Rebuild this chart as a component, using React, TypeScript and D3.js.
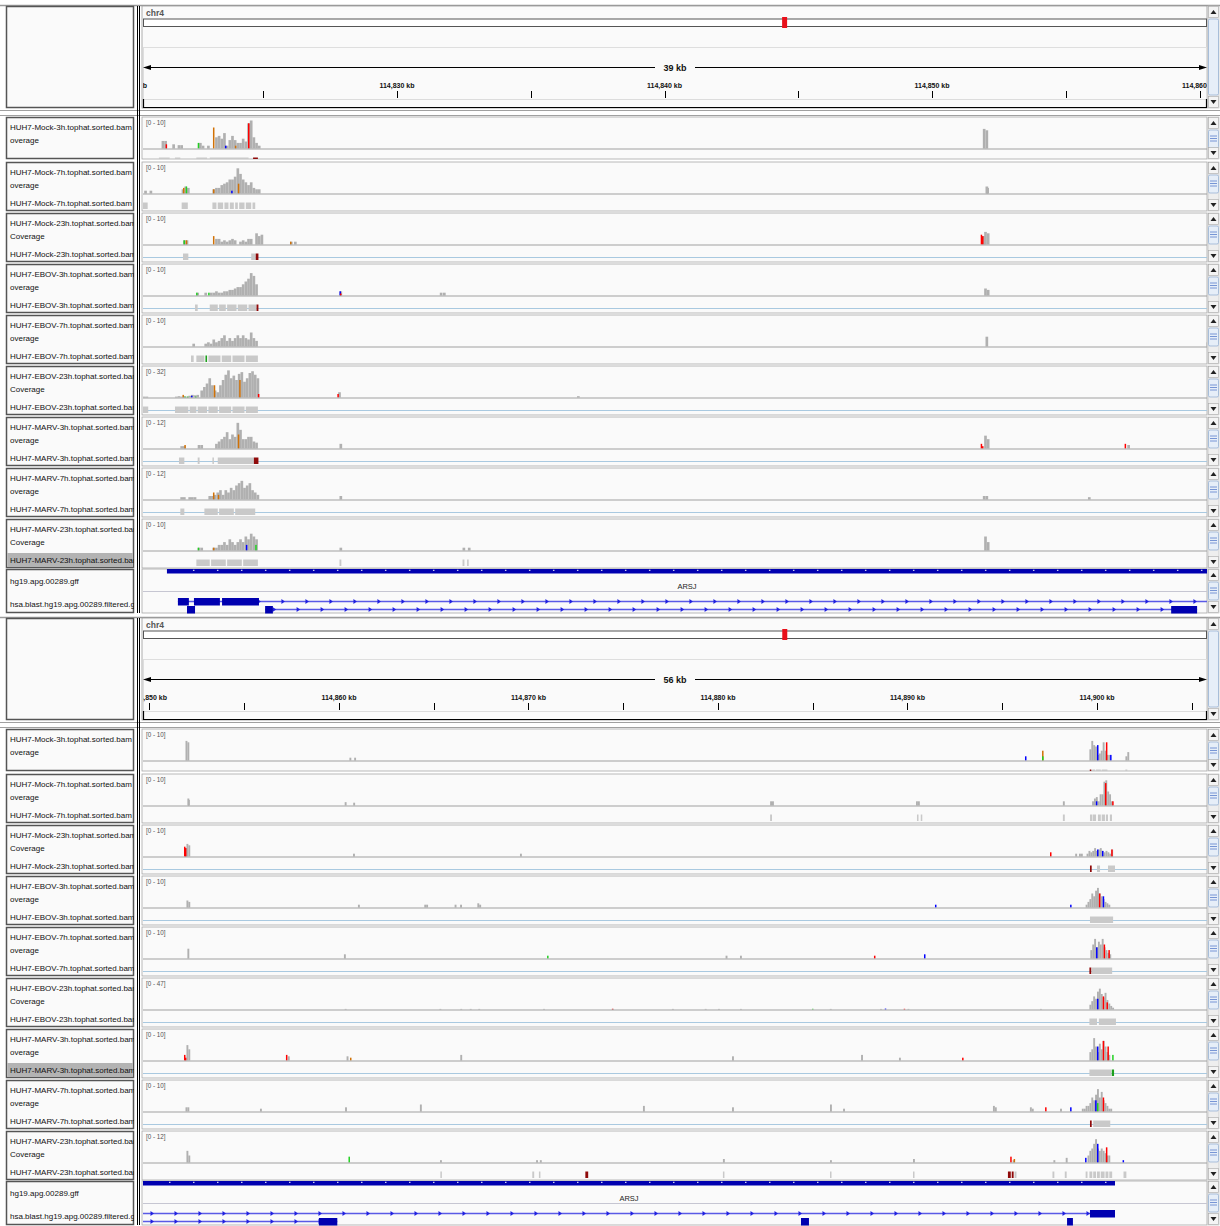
import * as d3 from "d3";
import React from "react";

// ---- layout constants ----
const W = 1220;
const H = 1226;
const X0 = 143;
const X1 = 1207;
const BIN = 0.1; // kb per coverage bin

// ---- view data ----
const TOP_DOMAIN = [114820.505, 114860.28];
const BOTTOM_DOMAIN = [114849.657, 114905.805];
const SPAN_LABELS = ["39 kb", "56 kb"];
const CHR4_LEN = 191154; // kb

const SAMPLES = [
  "HUH7-Mock-3h", "HUH7-Mock-7h", "HUH7-Mock-23h",
  "HUH7-EBOV-3h", "HUH7-EBOV-7h", "HUH7-EBOV-23h",
  "HUH7-MARV-3h", "HUH7-MARV-7h", "HUH7-MARV-23h",
];
const COV_LABELS = ["overage", "overage", "Coverage", "overage", "overage", "Coverage", "overage", "overage", "Coverage"];
const RANGE_TOP = [10, 10, 10, 10, 10, 32, 12, 12, 10];
const RANGE_BOTTOM = [10, 10, 10, 10, 10, 47, 10, 10, 12];
const BLUE_TOP = [0, 0, 1, 1, 0, 1, 1, 1, 0];
const BLUE_BOTTOM = [0, 0, 1, 1, 1, 1, 1, 1, 0];
const SELECTED = [8, 6]; // selected alignment label per panel

// coverage runs: [start kb, values per 0.1 kb bin]
const COV_MOCK_3H = [
  [114821.1, [0, 2.7, 2.7, 0, 0, 1.5, 0, 1.2, 1.2, 0, 0, 0, 0, 0, 0, 2, 1, 0, 1, 0, 0, 4, 4.5, 3.5, 5.5, 1, 3, 4.5, 3, 2, 2, 3.5, 2.5, 9, 10, 4, 2, 1]],
  [114851.9, [7, 6.5]],
  [114860.55, [1]], [114860.8, [1]],
  [114899.6, [4, 7, 5.5, 5, 2, 2.5, 3.5, 6.5, 3.5, 2, 2]],
  [114901.5, [1.5, 3]],
];
const COV_MOCK_7H = [
  [114820.55, [1]], [114820.75, [1]],
  [114821.95, [1.5, 2.5, 2]],
  [114823.1, [1.5, 2, 2, 3, 3.5, 4, 5, 5, 6, 9, 7, 5, 4, 3, 4, 2, 1.5, 1.5]],
  [114852.0, [2.5]],
  [114852.03, [2]], [114860.3, [1.2]], [114860.75, [1]],
  [114882.75, [1.5, 1.5]], [114890.45, [1.5, 1.5]], [114898.2, [1.5]],
  [114899.74, [1.5, 2.5, 3, 1.5, 4, 4, 8.5, 9, 5, 4, 1.5]],
];
const COV_MOCK_23H = [
  [114822.0, [1.5, 1.5]],
  [114823.2, [2, 2, 1, 1.5, 1, 1.5, 2, 1.5, 0, 1, 1.5, 1, 2, 2, 0, 4, 3, 3.5]],
  [114826.0, [1]], [114826.15, [1]],
  [114851.95, [4.5, 4]],
  [114851.9, [3]], [114860.74, [1]], [114869.55, [1]],
  [114898.85, [1, 0, 1, 1, 0, 0, 1, 2, 1.5, 2, 3, 2, 2.5, 3, 2, 1.5, 2, 1.5, 1, 2.5]],
];
const COV_EBOV_3H = [
  [114822.5, [1, 0, 0, 1, 0, 1]],
  [114823.1, [1, 1.5, 1, 1, 1.5, 1.5, 2, 2, 2.5, 3, 3, 4, 5, 6, 8, 7, 4]],
  [114827.85, [1.5]], [114831.6, [1]], [114831.72, [1]],
  [114851.95, [2.5, 2]],
  [114861.0, [1]], [114864.5, [1, 1]], [114866.1, [1]], [114866.39, [1]], [114867.3, [1.5, 1]],
  [114899.4, [1, 2, 3, 5, 4, 6, 7, 5, 4, 3, 2, 1.5, 1]],
];
const COV_EBOV_7H = [
  [114822.35, [1]],
  [114822.8, [1, 1.5, 1, 2.5, 1.5, 2, 3, 4, 2, 3, 2, 3, 4, 3, 4, 3, 2.5, 5, 3, 2]],
  [114852.0, [3.5]],
  [114860.26, [1.5]], [114880.4, [1]], [114881.16, [1]],
  [114899.65, [3, 5, 7, 4, 6, 5, 7, 4, 3, 2, 1.5]],
];
const COV_EBOV_23H = [
  [114820.5, [1, 1]],
  [114821.7, [1, 1.5, 1, 1.5, 1, 2, 3, 2.5, 3]],
  [114822.65, [8, 12, 16, 22, 14, 8, 6, 14, 20, 26, 31, 22, 25, 20, 27, 29, 18, 22, 28, 30, 26, 22]],
  [114827.8, [6]], [114836.73, [1.5]],
  [114860.3, [1]], [114865.3, [1]], [114866.4, [1]], [114866.9, [1]], [114867.35, [1]],
  [114870.77, [1]], [114874.4, [1]], [114877.57, [1]], [114879.3, [1]], [114880.0, [1]],
  [114881.16, [1]], [114885.9, [1]], [114888.55, [1]], [114890.0, [1]], [114896.99, [1]],
  [114899.6, [8, 14, 22, 18, 30, 35, 26, 20, 28, 16, 10, 6, 3]],
];
const COV_MARV_3H = [
  [114821.9, [1, 1]],
  [114822.55, [1.5, 1.5]],
  [114823.2, [2, 3, 4, 5, 7, 4, 6, 5, 11, 8, 4, 4, 5, 5, 3, 2.5]],
  [114827.85, [2]], [114851.95, [5.5, 4]], [114857.3, [1.5]],
  [114860.4, [1.5]], [114866.4, [2]], [114880.74, [1.5]], [114887.55, [2]], [114889.55, [1]],
  [114899.6, [3, 4, 8, 5, 3, 6, 4, 7, 5, 3, 2]],
];
const COV_MARV_7H = [
  [114821.9, [1, 1, 0, 1, 1, 1]],
  [114822.95, [1.5, 1.5, 2, 3, 4, 2, 4, 3, 5, 4, 6, 7, 8, 5, 6, 7, 4, 3, 2]],
  [114827.85, [1.5]], [114851.9, [1.5, 1.5]],
  [114855.83, [1]], [114860.32, [1.5]], [114864.27, [2.5]], [114876.04, [2]],
  [114880.74, [1.5]], [114885.91, [2.5]], [114886.6, [1]], [114894.51, [2, 1.5]],
  [114896.46, [1.5, 1]], [114898.05, [1]],
  [114899.2, [1, 1, 2, 2, 3, 5, 4, 6, 8, 5, 7, 4, 3, 2, 1, 1]],
];
const COV_MARV_23H = [
  [114822.55, [1, 1]],
  [114823.1, [1, 1, 2, 2, 3, 2, 4, 3, 2, 3, 4, 3, 5, 4, 6, 5, 4]],
  [114827.85, [1]], [114832.45, [1, 0, 1]], [114851.95, [5, 3]],
  [114865.33, [1]], [114870.4, [1]], [114870.6, [1]], [114880.26, [1.5]], [114885.91, [1]],
  [114890.29, [1.5]], [114895.55, [1]], [114897.7, [1]], [114898.35, [2]],
  [114899.5, [3, 5, 6, 8, 10, 6, 5, 6, 5, 4, 3, 3]],
];

// mismatch bars: [kb, value, base]
const SNP_MOCK_3H = [[114821.35, 1.5, "T"], [114822.55, 2, "A"], [114823.12, 7.5, "G"], [114823.57, 1, "C"], [114823.94, 1, "G"], [114824.43, 9, "T"], [114896.2, 1.5, "C"], [114897.1, 3.5, "G"], [114897.1, 1.5, "A"], [114900.0, 5.5, "C"], [114900.47, 6.5, "T"], [114900.69, 2, "C"]];
const SNP_MOCK_7H = [[114822.0, 2, "G"], [114822.1, 2.5, "A"], [114823.12, 1.5, "G"], [114823.8, 1, "C"], [114824.05, 3.5, "G"], [114899.94, 1.5, "C"], [114900.42, 8, "T"], [114900.8, 1.5, "T"]];
const SNP_MOCK_23H = [[114822.02, 1.5, "A"], [114822.1, 1.5, "G"], [114823.12, 3, "G"], [114826.0, 1, "G"], [114851.87, 3, "T"], [114851.82, 3.5, "T"], [114897.52, 1.5, "T"], [114900.0, 2.5, "C"], [114900.26, 2, "C"], [114900.75, 2.5, "T"]];
const SNP_EBOV_3H = [[114822.49, 1, "A"], [114822.94, 1, "A"], [114827.85, 1.5, "C"], [114827.87, 0.7, "T"], [114891.45, 1, "C"], [114898.58, 1, "C"], [114900.1, 5, "T"], [114900.3, 4, "C"]];
const SNP_EBOV_7H = [[114870.98, 1, "A"], [114888.23, 1, "T"], [114890.87, 1.5, "C"], [114899.95, 4, "C"], [114900.35, 5, "T"], [114900.6, 3, "T"]];
const SNP_EBOV_23H = [[114821.98, 3, "G"], [114822.05, 1, "A"], [114822.15, 1, "A"], [114822.3, 2, "C"], [114822.45, 1, "A"], [114823.15, 14, "G"], [114824.1, 20, "G"], [114824.8, 4, "T"], [114827.77, 4, "T"], [114874.4, 1.2, "T"], [114884.96, 1.2, "A"], [114888.8, 1.5, "C"], [114889.8, 1.2, "T"], [114900.0, 18, "C"], [114900.3, 22, "T"], [114900.5, 12, "T"]];
const SNP_MARV_3H = [[114822.05, 1.5, "G"], [114824.05, 6, "G"], [114851.87, 1, "T"], [114851.82, 2, "T"], [114857.2, 2, "T"], [114860.58, 1, "G"], [114892.88, 1, "T"], [114900.0, 5, "C"], [114900.3, 7, "T"], [114900.55, 5, "T"], [114900.8, 2, "A"]];
const SNP_MARV_7H = [[114823.12, 3, "G"], [114823.3, 2, "G"], [114897.26, 1.5, "T"], [114898.58, 1.5, "C"], [114899.9, 4, "C"], [114900.0, 3, "A"], [114900.3, 5, "T"]];
const SNP_MARV_23H = [[114822.55, 1, "A"], [114823.12, 1, "G"], [114824.35, 2, "C"], [114824.7, 2, "A"], [114860.5, 2.5, "A"], [114895.42, 2.5, "T"], [114895.6, 1.5, "G"], [114899.37, 2, "C"], [114900.0, 8, "C"], [114900.47, 6.5, "T"], [114901.35, 1, "C"]];

// alignment blocks: [start kb, end kb, kind]  (D = dark red)
const READS_MOCK_3H = [[114821.1, 114821.5], [114821.7, 114821.9], [114822.5, 114822.9], [114823.0, 114824.45], [114824.62, 114824.8, "D"], [114899.62, 114899.7, "D"], [114899.75, 114899.9], [114899.95, 114900.2], [114900.25, 114900.55], [114901.5, 114901.6]];
const READS_MOCK_7H = [[114820.5, 114820.68], [114821.95, 114822.18], [114823.1, 114823.25], [114823.3, 114823.5], [114823.55, 114823.7], [114823.75, 114823.9], [114823.95, 114824.05], [114824.1, 114824.3], [114824.35, 114824.55], [114824.6, 114824.7], [114882.75, 114882.85], [114890.5, 114890.58], [114890.7, 114890.78], [114898.2, 114898.3], [114899.63, 114899.76], [114899.79, 114899.95], [114900.05, 114900.2], [114900.25, 114900.42], [114900.47, 114900.58], [114900.68, 114900.79]];
const READS_MOCK_23H = [[114822.0, 114822.2], [114824.55, 114824.72], [114824.72, 114824.82, "D"], [114899.63, 114899.72, "D"], [114900.0, 114900.16], [114900.58, 114900.95]];
const READS_EBOV_3H = [[114822.45, 114822.55], [114823.0, 114823.3], [114823.35, 114823.6], [114823.65, 114824.0], [114824.05, 114824.4], [114824.45, 114824.75], [114824.75, 114824.82, "D"], [114899.63, 114900.85]];
const READS_EBOV_7H = [[114822.3, 114822.4], [114822.5, 114822.8], [114822.84, 114822.9, "A"], [114822.95, 114823.4], [114823.45, 114823.8], [114823.85, 114824.3], [114824.35, 114824.8], [114899.6, 114899.7, "D"], [114899.72, 114900.8]];
const READS_EBOV_23H = [[114820.5, 114820.7], [114821.7, 114822.2], [114822.25, 114822.5], [114822.55, 114822.9], [114822.95, 114823.3], [114823.35, 114823.8], [114823.85, 114824.3], [114824.35, 114824.8], [114899.6, 114900.0], [114900.1, 114901.0]];
const READS_MARV_3H = [[114821.85, 114822.05], [114822.55, 114822.62], [114823.1, 114823.15], [114823.3, 114824.65], [114824.65, 114824.82, "D"], [114899.6, 114900.75], [114900.78, 114900.9, "A"]];
const READS_MARV_7H = [[114821.9, 114822.05], [114822.8, 114823.3], [114823.35, 114823.9], [114823.95, 114824.7], [114899.63, 114899.72, "D"], [114899.8, 114900.7]];
const READS_MARV_23H = [[114822.5, 114823.0], [114823.05, 114823.6], [114823.65, 114824.2], [114824.25, 114824.8], [114827.85, 114827.92], [114832.45, 114832.52], [114832.62, 114832.68], [114865.35, 114865.42], [114870.2, 114870.3], [114870.55, 114870.62], [114873.0, 114873.15, "D"], [114880.26, 114880.33], [114885.91, 114885.98], [114890.29, 114890.36], [114895.3, 114895.45, "D"], [114895.5, 114895.6, "D"], [114895.65, 114895.75], [114897.65, 114897.75], [114898.3, 114898.4], [114899.4, 114899.5], [114899.6, 114899.75], [114899.8, 114899.95], [114900.0, 114900.15], [114900.2, 114900.4], [114900.45, 114900.6], [114900.65, 114900.8], [114901.4, 114901.55]];

const COV = [COV_MOCK_3H, COV_MOCK_7H, COV_MOCK_23H, COV_EBOV_3H, COV_EBOV_7H, COV_EBOV_23H, COV_MARV_3H, COV_MARV_7H, COV_MARV_23H];
const SNPS = [SNP_MOCK_3H, SNP_MOCK_7H, SNP_MOCK_23H, SNP_EBOV_3H, SNP_EBOV_7H, SNP_EBOV_23H, SNP_MARV_3H, SNP_MARV_7H, SNP_MARV_23H];
const READS = [READS_MOCK_3H, READS_MOCK_7H, READS_MOCK_23H, READS_EBOV_3H, READS_EBOV_7H, READS_EBOV_23H, READS_MARV_3H, READS_MARV_7H, READS_MARV_23H];

// annotation tracks
const GFF_FEATURE = [114821.4, 114900.95];
const GENE_NAME = "ARSJ";
const ROW1_LINE = [114821.81, 114900.95];
const ROW1_EXONS = [[114821.81, 114822.22], [114822.41, 114823.38], [114823.46, 114824.84], [114899.63, 114900.95]];
const ROW2_LINE = [114825.07, 114859.91];
const ROW2_EXONS = [[114822.15, 114822.45], [114825.07, 114825.36], [114858.94, 114859.91], [114884.38, 114884.8], [114898.42, 114898.73]];

const BASE_COLOR = { A: "#22d022", C: "#0000ff", G: "#d17105", T: "#ff0000" };
const FONT = "'Liberation Sans', Arial, sans-serif";

const trackTop = (i) => (i === 0 ? 117 : 162 + 51 * (i - 1));
const trackH = (i) => (i === 0 ? 42 : 49);

function Scroll({ y, h, lines }) {
  const bx = 1208;
  return (
    <g>
      <rect x={bx} y={y} width={11} height={h} fill="#eeeeee" stroke="#b8b8b8" strokeWidth={0.6} />
      <rect x={bx + 0.5} y={y + 0.5} width={10} height={11} fill="#f4f4f4" stroke="#a8a8a8" strokeWidth={0.6} />
      <path d={`M${bx + 2.5},${y + 8} L${bx + 8.5},${y + 8} L${bx + 5.5},${y + 4} Z`} fill="#222" />
      <rect x={bx + 0.5} y={y + 13} width={10} height={h > 60 ? h - 26 : 18} fill="#e6eef8" stroke="#8eaad0" strokeWidth={0.7} rx={1.5} />
      {lines && [0, 1, 2].map((k) => (
        <line key={k} x1={bx + 2} x2={bx + 9} y1={y + 19 + k * 2.5} y2={y + 19 + k * 2.5} stroke="#5a7ecb" strokeWidth={0.8} />
      ))}
      <rect x={bx + 0.5} y={y + h - 11.5} width={10} height={11} fill="#f4f4f4" stroke="#a8a8a8" strokeWidth={0.6} />
      <path d={`M${bx + 2.5},${y + h - 8} L${bx + 8.5},${y + h - 8} L${bx + 5.5},${y + h - 4} Z`} fill="#222" />
    </g>
  );
}

function runsToBars(runs) {
  const out = [];
  runs.forEach(([start, vals]) => {
    vals.forEach((v, k) => {
      if (v > 0) out.push({ kb: start + k * BIN, v });
    });
  });
  return out;
}

function Panel({ p }) {
  const off = p === 0 ? 0 : 612;
  const domain = p === 0 ? TOP_DOMAIN : BOTTOM_DOMAIN;
  const ranges = p === 0 ? RANGE_TOP : RANGE_BOTTOM;
  const blue = p === 0 ? BLUE_TOP : BLUE_BOTTOM;
  const x = d3.scaleLinear().domain(domain).range([X0, X1]);
  const chr = d3.scaleLinear().domain([0, CHR4_LEN]).range([X0, X1]);
  const ticks = d3.range(Math.floor(domain[0] / 5) * 5, domain[1] + 5, 5);
  const fmt = d3.format(",");
  const cid = `clip-data-${p}`;
  const lid = `clip-label-${p}`;
  const clampX = (v) => Math.max(X0, Math.min(X1, v));
  const mid = (X0 + X1) / 2;
  const markX0 = chr(domain[0]);
  const markW = Math.max(5, chr(domain[1]) - markX0);
  const g0 = 569;

  const chevrons = (a, b, y, key) => {
    const s = clampX(x(a));
    const e = clampX(x(b));
    return d3.range(s + 9, e - 3, 24).map((cx, k) => (
      <path key={`${key}-${k}`} d={`M${cx - 1.5},${y - 2.5} L${cx + 2},${y} L${cx - 1.5},${y + 2.5} Z`} fill="#2020e0" />
    ));
  };

  return (
    <g transform={`translate(0,${off})`}>
      <defs>
        <clipPath id={cid}><rect x={X0} y={0} width={X1 - X0} height={620} /></clipPath>
        <clipPath id={lid}><rect x={6} y={0} width={128} height={620} /></clipPath>
      </defs>

      {/* ruler header */}
      <rect x={6.5} y={6.5} width={127} height={101} fill="#fafafa" stroke="#555" strokeWidth={1.5} />
      <rect x={142} y={6} width={1065} height={102} fill="#fafafa" stroke="#9a9a9a" strokeWidth={0.8} />
      <text x={146} y={16} fontFamily={FONT} fontSize={8.5} fontWeight="bold" fill="#555">chr4</text>
      <rect x={143.5} y={19} width={X1 - X0 - 1} height={7.5} fill="#fff" stroke="#555" strokeWidth={1} />
      <rect x={markX0} y={17} width={markW} height={11} fill="#e8101a" />
      <rect x={143.5} y={47.5} width={X1 - X0 - 1} height={52} fill="none" stroke="#dedede" strokeWidth={1} />
      <line x1={147} x2={mid - 20} y1={67.5} y2={67.5} stroke="#000" strokeWidth={1} />
      <line x1={mid + 20} x2={X1 - 4} y1={67.5} y2={67.5} stroke="#000" strokeWidth={1} />
      <path d={`M${X0},67.5 L${X0 + 8},65 L${X0 + 8},70 Z`} fill="#000" />
      <path d={`M${X1},67.5 L${X1 - 8},65 L${X1 - 8},70 Z`} fill="#000" />
      <text x={mid} y={71} textAnchor="middle" fontFamily={FONT} fontSize={9} fontWeight="bold" fill="#111">{SPAN_LABELS[p]}</text>
      <g clipPath={`url(#${cid})`}>
        {ticks.map((t) => (
          <g key={t}>
            <line x1={Math.round(x(t)) + 0.5} x2={Math.round(x(t)) + 0.5} y1={91} y2={98} stroke="#000" strokeWidth={1} />
            {Math.round(t) % 10 === 0 && x(t) > X0 - 20 && x(t) < X1 + 10 && (
              <text x={x(t)} y={87.5} textAnchor="middle" fontFamily={FONT} fontSize={7} fontWeight="bold" fill="#111">{`${fmt(t)} kb`}</text>
            )}
          </g>
        ))}
      </g>
      <line x1={X0} x2={X1} y1={99.5} y2={99.5} stroke="#dcdcdc" />
      <path d={`M${X0 + 0.5},99 L${X0 + 0.5},107.5 L${X1 - 0.5},107.5 L${X1 - 0.5},99`} fill="none" stroke="#000" strokeWidth={1.2} />
      <Scroll y={6} h={102} lines={false} />

      {/* separator strip */}
      <line x1={0} x2={W} y1={110.5} y2={110.5} stroke="#a0a0a0" />
      <line x1={0} x2={W} y1={115.5} y2={115.5} stroke="#a0a0a0" />

      {/* alignment tracks */}
      {SAMPLES.map((s, i) => {
        const t = trackTop(i);
        const h = trackH(i);
        const base = t + 31.5;
        const yv = d3.scaleLinear().domain([0, ranges[i]]).range([base, base - 28]);
        const bars = runsToBars(COV[i]).filter((b) => b.kb + BIN > domain[0] && b.kb < domain[1]);
        const tid = `clip-t-${p}-${i}`;
        return (
          <g key={s}>
            <defs>
              <clipPath id={tid}><rect x={X0} y={t} width={X1 - X0} height={h} /></clipPath>
            </defs>
            <rect x={6.5} y={t + 0.5} width={127} height={h - 1} fill="#fafafa" stroke="#555" strokeWidth={1.5} />
            {SELECTED[p] === i && <rect x={7.25} y={t + 34} width={125.5} height={14} fill="#b3b3b3" />}
            <g clipPath={`url(#${lid})`} fontFamily={FONT} fontSize={8} fill="#111">
              <text x={10} y={t + 13}>{`${s}.tophat.sorted.bam`}</text>
              <text x={10} y={t + 26}>{COV_LABELS[i]}</text>
              {i > 0 && <text x={10} y={t + 44}>{`${s}.tophat.sorted.bam`}</text>}
            </g>
            <rect x={142} y={t} width={1065} height={h} fill="#fafafa" stroke="#a8a8a8" strokeWidth={0.8} />
            <g clipPath={`url(#${tid})`}>
              <text x={146} y={t + 7.5} fontFamily={FONT} fontSize={6.3} fill="#555">{`[0 - ${ranges[i]}]`}</text>
              {bars.map((b, k) => {
                const bx = x(b.kb);
                const bw = Math.max(1, x(b.kb + BIN) - bx);
                return <rect key={k} x={bx} y={yv(b.v)} width={bw} height={base - yv(b.v)} fill="#b0b0b0" />;
              })}
              {SNPS[i].map(([kb, v, base0], k) => (
                <rect key={`s${k}`} x={x(kb)} y={yv(v)} width={Math.max(1.5, x(kb + 0.04) - x(kb))} height={base - yv(v)} fill={BASE_COLOR[base0]} />
              ))}
              <line x1={X0} x2={X1} y1={base + 0.5} y2={base + 0.5} stroke="#a0a0a0" strokeWidth={1} />
              {blue[i] === 1 && <line x1={X0} x2={X1} y1={base + 13} y2={base + 13} stroke="#a9c9e0" strokeWidth={1.2} />}
              {READS[i].map(([a, b, kind], k) => (
                <rect key={`r${k}`} x={x(a)} y={base + 9} width={Math.max(1.5, x(b) - x(a))} height={6.5}
                  fill={kind === "D" ? "#8f0a0a" : kind === "A" ? "#1ca01c" : "#c9c9c9"} />
              ))}
            </g>
            <Scroll y={t} h={h} lines={true} />
          </g>
        );
      })}

      {/* annotation tracks */}
      <rect x={6.5} y={g0 + 0.5} width={127} height={43} fill="#fafafa" stroke="#555" strokeWidth={1.5} />
      <g clipPath={`url(#${lid})`} fontFamily={FONT} fontSize={8} fill="#111">
        <text x={10} y={g0 + 15}>hg19.apg.00289.gff</text>
        <text x={10} y={g0 + 38}>hsa.blast.hg19.apg.00289.filtered.gff</text>
      </g>
      <rect x={142} y={g0} width={1065} height={44} fill="#fafafa" stroke="#a8a8a8" strokeWidth={0.8} />
      <g clipPath={`url(#${cid})`}>
        <rect x={x(GFF_FEATURE[0])} y={g0} width={x(GFF_FEATURE[1]) - x(GFF_FEATURE[0])} height={4.5} fill="#0000b0" />
        {d3.range(clampX(x(GFF_FEATURE[0])) + 26, clampX(x(GFF_FEATURE[1])) - 4, 24).map((cx, k) => (
          <rect key={`w${k}`} x={cx} y={g0 + 0.8} width={1.5} height={1} fill="#ffffff" />
        ))}
        <text x={(clampX(x(GFF_FEATURE[0])) + clampX(x(GFF_FEATURE[1]))) / 2} y={g0 + 19.5} textAnchor="middle" fontFamily={FONT} fontSize={7.5} fill="#222">{GENE_NAME}</text>
        <line x1={X0} x2={X1} y1={g0 + 22.5} y2={g0 + 22.5} stroke="#c6c6d2" strokeWidth={1} />
        <line x1={x(ROW1_LINE[0])} x2={x(ROW1_LINE[1])} y1={g0 + 32.5} y2={g0 + 32.5} stroke="#5a5ae6" strokeWidth={1.6} />
        {chevrons(ROW1_LINE[0], ROW1_LINE[1], g0 + 32.5, "c1")}
        {ROW1_EXONS.map(([a, b], k) => (
          <rect key={`e1${k}`} x={x(a)} y={g0 + 29} width={x(b) - x(a)} height={7.5} fill="#0000b0" />
        ))}
        <line x1={x(ROW2_LINE[0])} x2={x(ROW2_LINE[1])} y1={g0 + 40.5} y2={g0 + 40.5} stroke="#5a5ae6" strokeWidth={1.6} />
        {chevrons(ROW2_LINE[0], ROW2_LINE[1], g0 + 40.5, "c2")}
        {ROW2_EXONS.map(([a, b], k) => (
          <rect key={`e2${k}`} x={x(a)} y={g0 + 37} width={x(b) - x(a)} height={7.5} fill="#0000b0" />
        ))}
      </g>
      <Scroll y={g0} h={44} lines={true} />

      {/* divider between names and data */}
      <line x1={137.5} x2={137.5} y1={6} y2={613} stroke="#000" strokeWidth={1} />
      <line x1={139.5} x2={139.5} y1={6} y2={613} stroke="#000" strokeWidth={1} />
    </g>
  );
}

export default function App() {
  return (
    <div style={{ position: "absolute", left: 0, top: 0 }}>
      <svg width={W} height={H} viewBox={`0 0 ${W} ${H}`} style={{ display: "block" }}>
        <rect x={0} y={0} width={W} height={H} fill="#ffffff" />
        <line x1={0} x2={W} y1={5.5} y2={5.5} stroke="#9a9a9a" strokeWidth={1.5} />
        <line x1={0} x2={W} y1={617.5} y2={617.5} stroke="#9a9a9a" strokeWidth={1.5} />
        <Panel p={0} />
        <Panel p={1} />
      </svg>
    </div>
  );
}
